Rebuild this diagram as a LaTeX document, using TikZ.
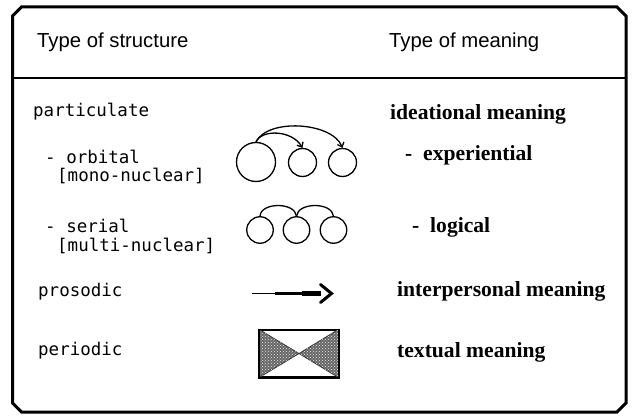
\documentclass[tikz,border=0pt]{standalone}
\usepackage{fontspec}
\setmainfont{Liberation Serif}
\newfontfamily\hdrfont{Liberation Sans}
\newfontfamily\monofont{DejaVu Sans Mono}
\newfontfamily\rightfont{Liberation Serif}
\usetikzlibrary{arrows.meta,patterns}
\tikzset{
  hdr/.style={anchor=base west,inner sep=0pt,font=\hdrfont\fontsize{20.3}{23}\selectfont},
  lft/.style={anchor=base west,inner sep=0pt,font=\monofont\fontsize{17.5}{20}\selectfont},
  rgt/.style={anchor=base west,inner sep=0pt,font=\rightfont\bfseries\fontsize{21.6}{24}\selectfont},
  ring/.style={circle,draw,line width=1.3pt,inner sep=0pt},
  link/.style={line width=1.3pt},
  fan/.style={draw=black!80,line width=0.8pt,fill=black!60},
}
\begin{document}
\begin{tikzpicture}[x=1pt,y=-1pt]
\useasboundingbox (0,0) rectangle (639,419);
% frame
\draw[line width=3pt,line join=miter]
  (21.5,7) -- (617,7) -- (626,16) -- (626,403) -- (617,412) -- (21.5,412) -- (12.5,403) -- (12.5,16) -- cycle;
\draw[line width=2.5pt] (12.5,78) -- (626,78);
% headers
\node[hdr] (h1) at (37,48) {Type of structure};
\node[hdr] (h2) at (389,48) {Type of meaning};
% left labels
\node[lft] (l1) at (33,117) {particulate};
\node[lft] (l2) at (45,164) {- orbital};
\node[lft] (l3) at (57,182) {[mono-nuclear]};
\node[lft] (l4) at (45,233) {- serial};
\node[lft] (l5) at (57,252) {[multi-nuclear]};
\node[lft] (l6) at (38,297) {prosodic};
\node[lft] (l7) at (38,355) {periodic};
% right labels
\node[rgt] (r1) at (390,120) {ideational meaning};
\node[rgt] (r2) at (405,161) {-\ \ experiential};
\node[rgt] (r3) at (412,233) {-\ \ logical};
\node[rgt] (r4) at (397,297) {interpersonal meaning};
\node[rgt] (r5) at (397,357) {textual meaning};
% orbital
\node[ring,minimum size=39pt] (big) at (256,162) {};
\node[ring,minimum size=28pt] (o1) at (302.5,162.5) {};
\node[ring,minimum size=28pt] (o2) at (342.5,162.5) {};
\draw[link,-{Straight Barb[length=4pt,width=7pt]}] (big.north) .. controls (262,129) and (292,130) .. (o1.north);
\draw[link,-{Straight Barb[length=4pt,width=7pt]}] (big.north) .. controls (268,118) and (332,122) .. (o2.north);
% serial
\node[ring,minimum size=26.5pt] (s1) at (260,230) {};
\node[ring,minimum size=26.5pt] (s2) at (296.5,230) {};
\node[ring,minimum size=26.5pt] (s3) at (333.5,230) {};
\draw[link] (s1.north) .. controls (261,202) and (295,202) .. (s2.north);
\draw[link] (s2.north) .. controls (298,202) and (332,202) .. (s3.north);
% prosodic arrow
\coordinate (p0) at (252,293.5);
\coordinate (p1) at (275,293.5);
\coordinate (p2) at (302,293.5);
\coordinate (p3) at (321,293.5);
\coordinate (ptip) at (331.5,293.5);
\coordinate (pa) at (320.5,284.5);
\coordinate (pb) at (320.5,302.5);
\draw[line width=1.6pt] (p0) -- (p1);
\draw[line width=3.2pt] (p1) -- (p2);
\draw[line width=5.5pt] (p2) -- (p3);
\draw[line width=3pt,line join=miter,line cap=round] (pa) -- (ptip) -- (pb);
% periodic box
\node[draw,line width=1.5pt,minimum width=78.5pt,minimum height=47pt,inner sep=0pt] (box) at (298.75,353.5) {};
\coordinate (mid) at (299,353.5);
\filldraw[fan] (box.north west) -- (mid) -- (box.south west) -- cycle;
\filldraw[fan] (box.north east) -- (mid) -- (box.south east) -- cycle;
\fill[pattern=crosshatch dots,pattern color=white!85!gray] (box.north west) -- (mid) -- (box.south west) -- cycle;
\fill[pattern=crosshatch dots,pattern color=white!85!gray] (box.north east) -- (mid) -- (box.south east) -- cycle;
\draw[line width=1.5pt] (box.north west) rectangle (box.south east);
\end{tikzpicture}
\end{document}
